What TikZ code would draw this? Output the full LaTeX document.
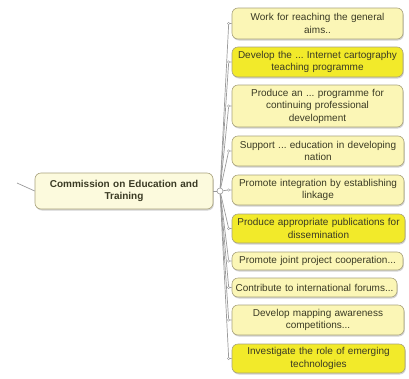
\documentclass[tikz,border=0pt]{standalone}
\usepackage{fontspec}
\setmainfont{Liberation Sans}
\usetikzlibrary{shadows}
\frenchspacing
\definecolor{pale}{HTML}{FBF6B6}
\definecolor{bright}{HTML}{F2EA2A}
\definecolor{cream}{HTML}{FCFADD}
\definecolor{bord}{HTML}{A8A27C}
\definecolor{txt}{HTML}{3A3A24}
\definecolor{wire}{HTML}{9A9A9A}
\tikzset{
  topicbox/.style={draw=bord, line width=0.6pt, rounded corners=6pt, inner sep=0pt,
    align=center, font=\fontsize{10}{12.5}\selectfont\frenchspacing, text=txt,
    drop shadow={shadow xshift=0.8pt, shadow yshift=-1.5pt, opacity=0.35}},
  palebox/.style={topicbox, fill=pale},
  brightbox/.style={topicbox, fill=bright},
  centralbox/.style={topicbox, fill=cream, font=\fontsize{10}{12.5}\selectfont\bfseries},
  wireline/.style={draw=wire, line width=0.7pt},
  knob/.style={circle, draw=wire, fill=white, line width=0.4pt, inner sep=0pt, minimum size=2.5pt},
  bigknob/.style={circle, draw=wire, fill=white, line width=0.6pt, inner sep=0pt, minimum size=6pt}
}
\begin{document}
\begin{tikzpicture}[x=1pt,y=-1pt]
\useasboundingbox (0,0) rectangle (409,378);
\node[centralbox, text width=178pt, minimum height=36pt] (c) at (124,191) {Commission on Education and\\Training};
\coordinate (stub) at (17,183);
\draw[wireline] (stub) -- (c.west);

\node[palebox, text width=171pt, minimum height=31pt] (b1) at (317.5,23.5) {Work for reaching the general\\aims..};
\node[brightbox, text width=171pt, minimum height=30pt] (b2) at (317.5,62) {Develop the ... Internet cartography\\teaching programme};
\node[palebox, text width=171pt, minimum height=42pt] (b3) at (317.5,106) {Produce an ... programme for\\continuing professional\\development};
\node[palebox, text width=172pt, minimum height=30pt] (b4) at (318,151) {Support ... education in developing\\nation};
\node[palebox, text width=172pt, minimum height=30pt] (b5) at (318,190) {Promote integration by establishing\\linkage};
\node[brightbox, text width=173pt, minimum height=29pt] (b6) at (318.5,228.5) {Produce appropriate publications for\\dissemination};
\node[palebox, text width=171pt, minimum height=18pt] (b7) at (317.5,261) {Promote joint project cooperation...};
\node[palebox, text width=165pt, minimum height=19pt] (b8) at (314.5,287.5) {Contribute to international forums...};
\node[palebox, text width=172pt, minimum height=30pt] (b9) at (318,320) {Develop mapping awareness\\competitions...};
\node[brightbox, text width=173pt, minimum height=29pt] (b10) at (318.5,358.5) {Investigate the role of emerging\\technologies};

\node[bigknob] (j) at (220,191) {};
\draw[wireline] (c.east) -- (j);
\foreach \b in {b1,b2,b3,b4,b5,b6,b7,b8,b9,b10}{
  \path (\b.west) ++(-3pt,0) node[knob] (k\b) {};
  \draw[wireline] (j) -- (k\b) -- (\b.west);
}
\end{tikzpicture}
\end{document}
